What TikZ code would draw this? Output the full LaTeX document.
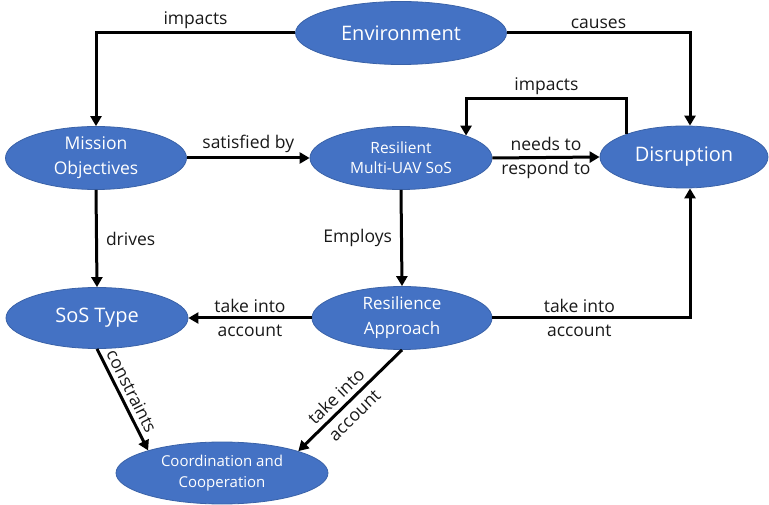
\documentclass[tikz,border=0pt]{standalone}
\usepackage{fontspec}
\setmainfont{Open Sans}
\usetikzlibrary{shapes.geometric,arrows.meta}
\definecolor{nodeblue}{HTML}{4472C4}
\definecolor{nodeedge}{HTML}{3A62A8}
\begin{document}
\begin{tikzpicture}[x=1pt,y=-1pt,
  blob/.style={ellipse, fill=nodeblue, draw=nodeedge, line width=0.8pt, text=white, inner sep=0pt, align=center},
  conn/.style={line width=3pt, -{Triangle[length=10pt,width=11pt]}},
  lbl/.style={font=\fontsize{17.5}{24}\selectfont, text=black!90, align=center, inner sep=2pt},
]
\useasboundingbox (0,0) rectangle (769,505);
\coordinate (lt) at (0,99);

\node[blob, minimum width=211pt, minimum height=63pt, font=\fontsize{20}{24}\selectfont] (env) at (401,33) {Environment};
\node[blob, minimum width=181pt, minimum height=63pt, font=\fontsize{17.5}{25}\selectfont] (mo) at (96,158) {Mission\\Objectives};
\node[blob, minimum width=182pt, minimum height=63pt, font=\fontsize{15.5}{20}\selectfont] (res) at (401,158) {Resilient\\Multi-UAV SoS};
\node[blob, minimum width=168pt, minimum height=62pt, font=\fontsize{20}{24}\selectfont] (dis) at (684,157) {Disruption};
\node[blob, minimum width=182pt, minimum height=61pt, font=\fontsize{20}{24}\selectfont] (sos) at (97,318) {SoS Type};
\node[blob, minimum width=180pt, minimum height=63pt, font=\fontsize{17}{25}\selectfont] (ra) at (402,318) {Resilience\\Approach};
\node[blob, minimum width=212pt, minimum height=62pt, font=\fontsize{15}{21}\selectfont] (cc) at (222,473) {Coordination and\\Cooperation};

\draw[conn] (env.west) -| node[lbl, pos=0.25, above, inner sep=2.5pt] {impacts} (mo.north);
\draw[conn] (env.east) -| node[lbl, pos=0.25, above, inner sep=2.5pt] {causes} ([xshift=6pt]dis.north);
\draw[conn] (dis.158) -- (dis.158 |- lt) -- node[lbl, above, inner sep=2.5pt] {impacts} (res.19 |- lt) -- (res.19);
\draw[conn] (mo.east) -- node[lbl, above, inner sep=4pt] {satisfied by} (res.west);
\draw[conn] (res.east) -- node[lbl] {needs to\\respond to} (dis.west);
\draw[conn] (mo.south) -- node[lbl, right, inner sep=8pt] {drives} (sos.north);
\draw[conn] (res.south) -- node[lbl, left, inner sep=8pt] {Employs} (ra.north);
\draw[conn] (ra.west) -- node[lbl] {take into\\account} (sos.east);
\draw[conn] (ra.east) -| node[lbl, pos=0.22] {take into\\account} ([xshift=6pt]dis.south);
\draw[conn] (sos.south) -- node[lbl, sloped, above, pos=0.47, inner sep=4pt] {constraints} (cc.163.6);
\draw[conn] (ra.south) -- node[lbl, sloped, pos=0.55, font=\fontsize{17.5}{26}\selectfont] {take into\\account} (cc.16.1);
\end{tikzpicture}
\end{document}
